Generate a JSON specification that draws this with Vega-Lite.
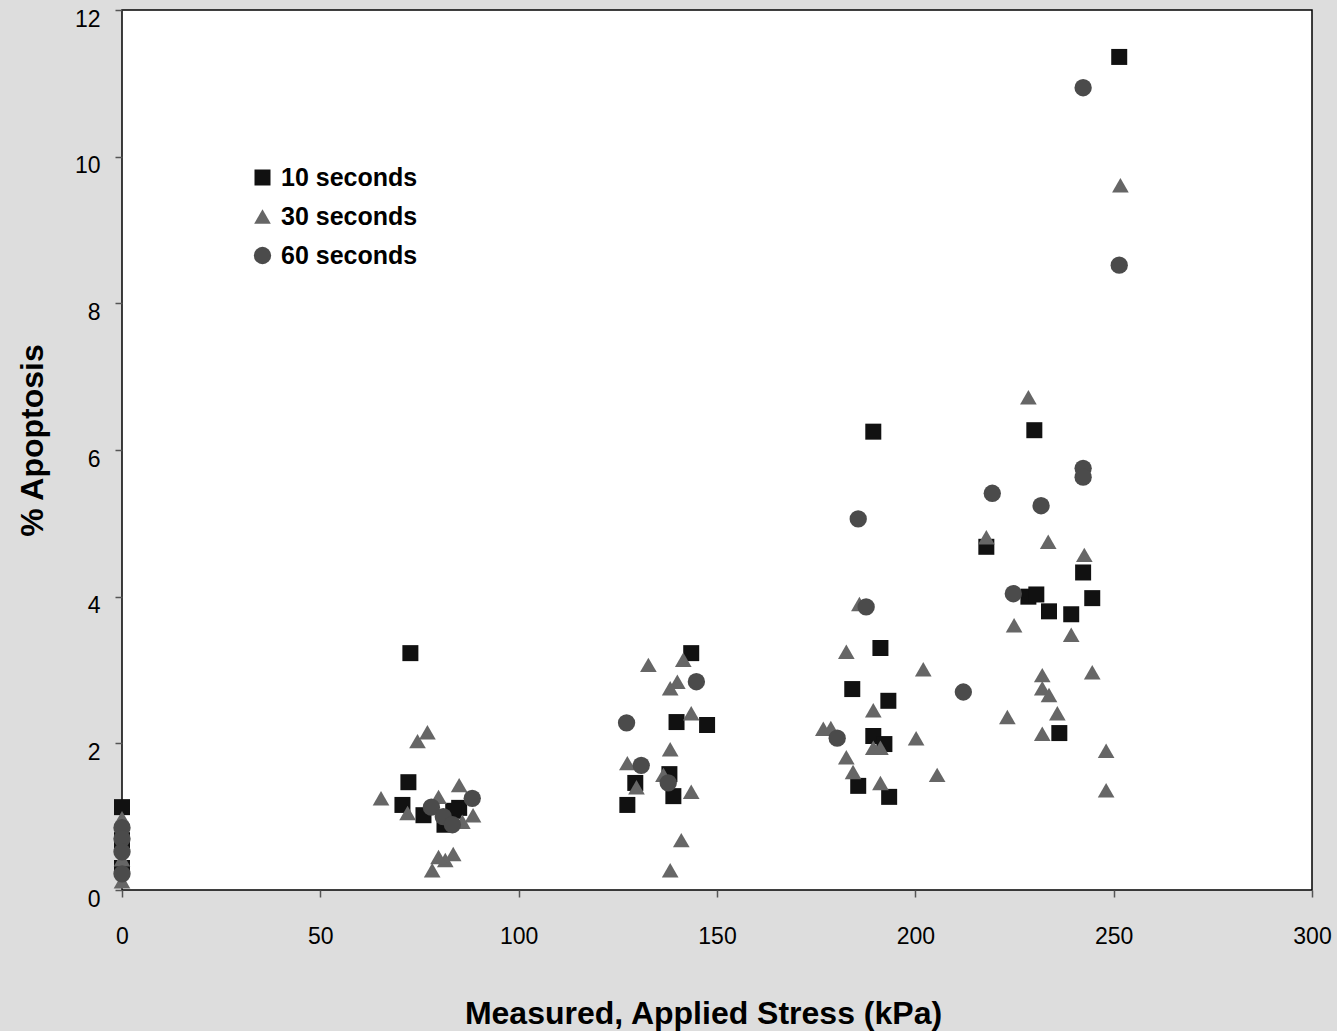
{
  "$schema": "https://vega.github.io/schema/vega-lite/v6.json",
  "width": 1190,
  "height": 880,
  "autosize": {"type": "none"},
  "padding": {"left": 122, "top": 10, "right": 25, "bottom": 141},
  "background": "#dddddd",
  "config": {
    "font": "Liberation Sans",
    "view": {"fill": "white", "stroke": "black", "strokeWidth": 1.5}
  },
  "data": {
    "values": [
      {"s": "10 seconds", "x": 0, "y": 1.13},
      {"s": "10 seconds", "x": 0, "y": 0.68},
      {"s": "10 seconds", "x": 0, "y": 0.3},
      {"s": "10 seconds", "x": 72.7, "y": 3.23},
      {"s": "10 seconds", "x": 72.2, "y": 1.47},
      {"s": "10 seconds", "x": 70.7, "y": 1.16},
      {"s": "10 seconds", "x": 76, "y": 1.02},
      {"s": "10 seconds", "x": 85, "y": 1.12},
      {"s": "10 seconds", "x": 83.5, "y": 1.08},
      {"s": "10 seconds", "x": 81.3, "y": 0.89},
      {"s": "10 seconds", "x": 143.5, "y": 3.23},
      {"s": "10 seconds", "x": 139.8, "y": 2.29},
      {"s": "10 seconds", "x": 147.5, "y": 2.25},
      {"s": "10 seconds", "x": 138, "y": 1.58},
      {"s": "10 seconds", "x": 129.4, "y": 1.46},
      {"s": "10 seconds", "x": 139, "y": 1.28},
      {"s": "10 seconds", "x": 127.4, "y": 1.16},
      {"s": "10 seconds", "x": 189.4, "y": 6.25},
      {"s": "10 seconds", "x": 191.2, "y": 3.3},
      {"s": "10 seconds", "x": 184.1, "y": 2.74},
      {"s": "10 seconds", "x": 193.2, "y": 2.58},
      {"s": "10 seconds", "x": 189.4, "y": 2.1},
      {"s": "10 seconds", "x": 192.2, "y": 1.99},
      {"s": "10 seconds", "x": 185.6, "y": 1.42},
      {"s": "10 seconds", "x": 193.4, "y": 1.27},
      {"s": "10 seconds", "x": 251.4, "y": 11.36},
      {"s": "10 seconds", "x": 230, "y": 6.27},
      {"s": "10 seconds", "x": 217.9, "y": 4.68},
      {"s": "10 seconds", "x": 242.3, "y": 4.33},
      {"s": "10 seconds", "x": 228.5, "y": 4.0},
      {"s": "10 seconds", "x": 230.5, "y": 4.03},
      {"s": "10 seconds", "x": 233.7, "y": 3.8},
      {"s": "10 seconds", "x": 239.3, "y": 3.76},
      {"s": "10 seconds", "x": 244.6, "y": 3.98},
      {"s": "10 seconds", "x": 236.3, "y": 2.14},
      {"s": "30 seconds", "x": 0, "y": 0.98},
      {"s": "30 seconds", "x": 0, "y": 0.42},
      {"s": "30 seconds", "x": 0, "y": 0.12},
      {"s": "30 seconds", "x": 65.3, "y": 1.25},
      {"s": "30 seconds", "x": 72, "y": 1.05},
      {"s": "30 seconds", "x": 74.5, "y": 2.03},
      {"s": "30 seconds", "x": 77, "y": 2.15},
      {"s": "30 seconds", "x": 79.8, "y": 1.27},
      {"s": "30 seconds", "x": 85, "y": 1.43},
      {"s": "30 seconds", "x": 88.5, "y": 1.02},
      {"s": "30 seconds", "x": 85.8, "y": 0.93},
      {"s": "30 seconds", "x": 83.5, "y": 0.49},
      {"s": "30 seconds", "x": 81.5, "y": 0.41},
      {"s": "30 seconds", "x": 79.8, "y": 0.45},
      {"s": "30 seconds", "x": 78.2, "y": 0.27},
      {"s": "30 seconds", "x": 132.7, "y": 3.07},
      {"s": "30 seconds", "x": 141.5, "y": 3.14},
      {"s": "30 seconds", "x": 140, "y": 2.84},
      {"s": "30 seconds", "x": 138.2, "y": 2.75},
      {"s": "30 seconds", "x": 143.5, "y": 2.41},
      {"s": "30 seconds", "x": 138.2, "y": 1.92},
      {"s": "30 seconds", "x": 127.4, "y": 1.73},
      {"s": "30 seconds", "x": 136.5, "y": 1.57},
      {"s": "30 seconds", "x": 129.7, "y": 1.4},
      {"s": "30 seconds", "x": 143.5, "y": 1.34},
      {"s": "30 seconds", "x": 141, "y": 0.68},
      {"s": "30 seconds", "x": 138.2, "y": 0.27},
      {"s": "30 seconds", "x": 185.9, "y": 3.9},
      {"s": "30 seconds", "x": 182.6, "y": 3.25},
      {"s": "30 seconds", "x": 202, "y": 3.01},
      {"s": "30 seconds", "x": 189.4, "y": 2.45},
      {"s": "30 seconds", "x": 176.8, "y": 2.2},
      {"s": "30 seconds", "x": 178.7, "y": 2.21},
      {"s": "30 seconds", "x": 200.2, "y": 2.07},
      {"s": "30 seconds", "x": 189.4, "y": 1.94},
      {"s": "30 seconds", "x": 191.2, "y": 1.94},
      {"s": "30 seconds", "x": 182.6, "y": 1.81},
      {"s": "30 seconds", "x": 184.3, "y": 1.61},
      {"s": "30 seconds", "x": 205.5, "y": 1.57},
      {"s": "30 seconds", "x": 191.2, "y": 1.46},
      {"s": "30 seconds", "x": 228.5, "y": 6.72},
      {"s": "30 seconds", "x": 217.9, "y": 4.81},
      {"s": "30 seconds", "x": 233.5, "y": 4.75},
      {"s": "30 seconds", "x": 242.6, "y": 4.57},
      {"s": "30 seconds", "x": 224.9, "y": 3.61},
      {"s": "30 seconds", "x": 239.3, "y": 3.48},
      {"s": "30 seconds", "x": 232, "y": 2.93},
      {"s": "30 seconds", "x": 244.6, "y": 2.97},
      {"s": "30 seconds", "x": 232, "y": 2.75},
      {"s": "30 seconds", "x": 233.7, "y": 2.66},
      {"s": "30 seconds", "x": 223.2, "y": 2.36},
      {"s": "30 seconds", "x": 235.8, "y": 2.41},
      {"s": "30 seconds", "x": 232, "y": 2.13},
      {"s": "30 seconds", "x": 248.1, "y": 1.9},
      {"s": "30 seconds", "x": 248.1, "y": 1.36},
      {"s": "30 seconds", "x": 251.7, "y": 9.61},
      {"s": "60 seconds", "x": 0, "y": 0.85},
      {"s": "60 seconds", "x": 0, "y": 0.7},
      {"s": "60 seconds", "x": 0, "y": 0.52},
      {"s": "60 seconds", "x": 0, "y": 0.22},
      {"s": "60 seconds", "x": 78, "y": 1.13},
      {"s": "60 seconds", "x": 88.3, "y": 1.25},
      {"s": "60 seconds", "x": 81, "y": 1.0},
      {"s": "60 seconds", "x": 83.3, "y": 0.89},
      {"s": "60 seconds", "x": 144.8, "y": 2.84},
      {"s": "60 seconds", "x": 127.2, "y": 2.28},
      {"s": "60 seconds", "x": 130.9, "y": 1.7},
      {"s": "60 seconds", "x": 137.7, "y": 1.46},
      {"s": "60 seconds", "x": 185.6, "y": 5.06},
      {"s": "60 seconds", "x": 187.6, "y": 3.86},
      {"s": "60 seconds", "x": 212.1, "y": 2.7},
      {"s": "60 seconds", "x": 180.3, "y": 2.07},
      {"s": "60 seconds", "x": 242.3, "y": 5.75},
      {"s": "60 seconds", "x": 242.3, "y": 5.63},
      {"s": "60 seconds", "x": 219.4, "y": 5.41},
      {"s": "60 seconds", "x": 231.7, "y": 5.24},
      {"s": "60 seconds", "x": 224.7, "y": 4.04},
      {"s": "60 seconds", "x": 242.3, "y": 10.94},
      {"s": "60 seconds", "x": 251.4, "y": 8.52}
    ]
  },
  "mark": {"type": "point", "filled": true, "opacity": 1, "strokeWidth": 0},
  "encoding": {
    "x": {
      "field": "x",
      "type": "quantitative",
      "scale": {"domain": [0, 300], "nice": false, "zero": false},
      "axis": {
        "values": [0, 50, 100, 150, 200, 250, 300],
        "grid": false,
        "domain": false,
        "tickColor": "#555555",
        "tickSize": 7,
        "tickWidth": 1.5,
        "labelFontSize": 23,
        "labelColor": "black",
        "labelPadding": 28,
        "labelFlush": false,
        "title": "Measured, Applied Stress (kPa)",
        "titleFontSize": 32,
        "titleFontWeight": "bold",
        "titleColor": "black",
        "titleX": 581,
        "titleY": 133,
        "titleAlign": "center",
        "titleBaseline": "alphabetic",
        "titleAnchor": null
      }
    },
    "y": {
      "field": "y",
      "type": "quantitative",
      "scale": {"domain": [0, 12], "nice": false, "zero": false},
      "axis": {
        "values": [0, 2, 4, 6, 8, 10, 12],
        "grid": false,
        "domain": false,
        "tickColor": "#555555",
        "tickSize": 7,
        "tickWidth": 1.5,
        "labelFontSize": 23,
        "labelColor": "black",
        "labelPadding": 15,
        "labelOffset": 9,
        "labelFlush": false,
        "title": "% Apoptosis",
        "titleFontSize": 32,
        "titleFontWeight": "bold",
        "titleColor": "black",
        "titleAngle": -90,
        "titleX": -80,
        "titleY": 430,
        "titleAlign": "center",
        "titleBaseline": "alphabetic"
      }
    },
    "shape": {
      "field": "s",
      "type": "nominal",
      "scale": {"domain": ["10 seconds", "30 seconds", "60 seconds"], "range": ["square", "triangle-up", "circle"]},
      "legend": {
        "orient": "none",
        "legendX": 128,
        "legendY": 155,
        "title": null,
        "padding": 0,
        "labelFontSize": 25,
        "labelFontWeight": "bold",
        "labelColor": "black",
        "labelOffset": 6,
        "rowPadding": 13,
        "symbolStrokeWidth": 0
      }
    },
    "color": {
      "field": "s",
      "type": "nominal",
      "scale": {"domain": ["10 seconds", "30 seconds", "60 seconds"], "range": ["#111111", "#666666", "#4b4b4b"]}
    },
    "size": {
      "field": "s",
      "type": "ordinal",
      "scale": {"domain": ["10 seconds", "30 seconds", "60 seconds"], "range": [256, 300, 201]}
    }
  }
}
